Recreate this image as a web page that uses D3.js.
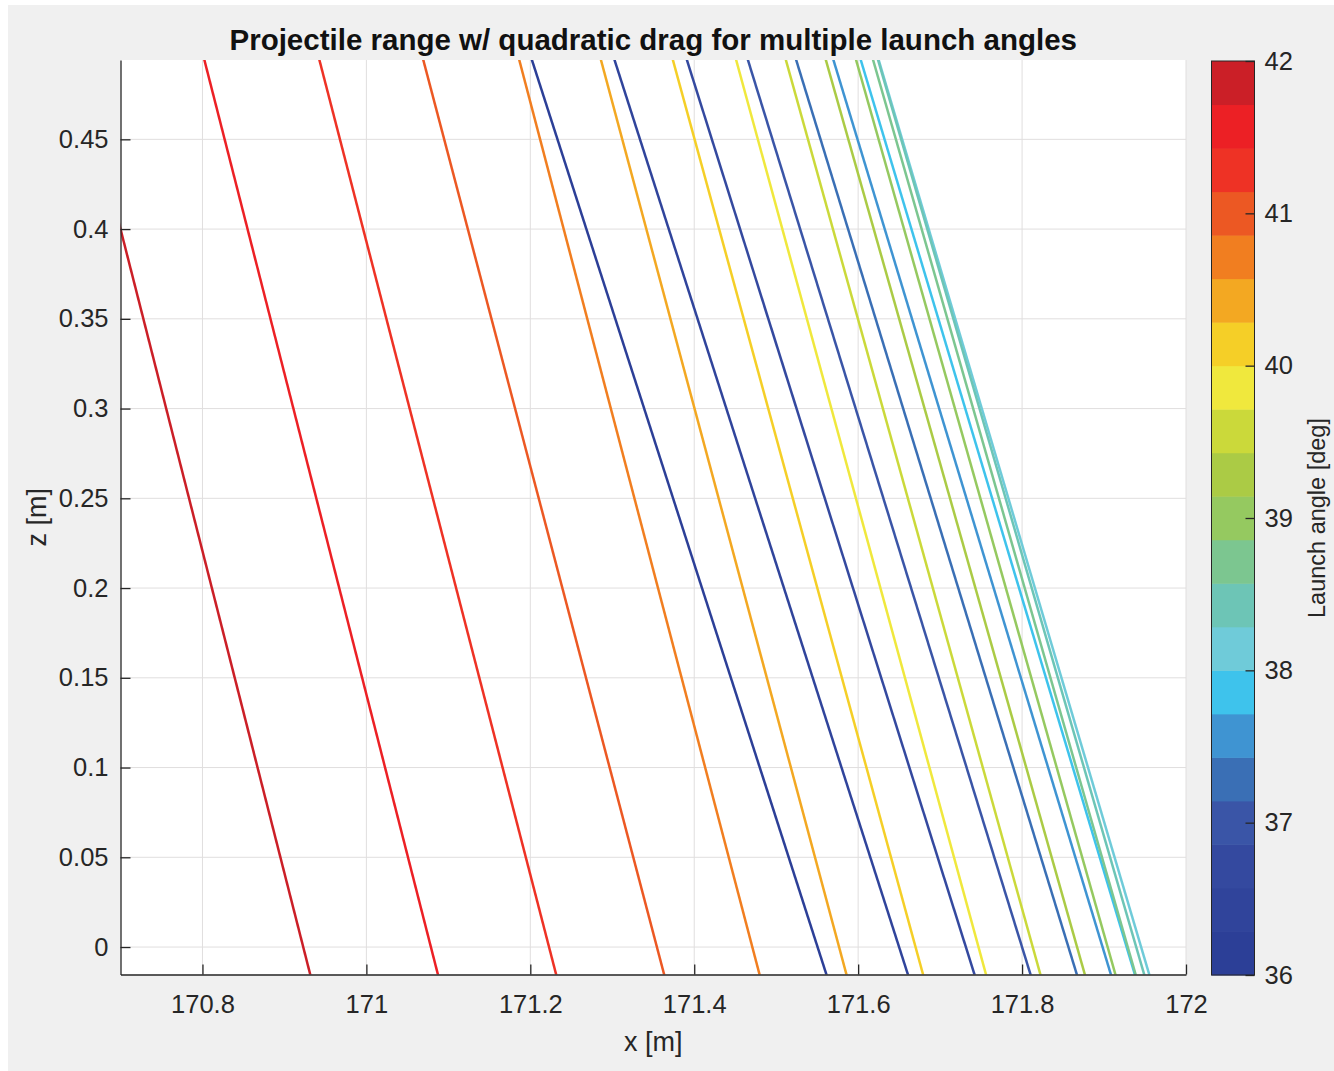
<!DOCTYPE html>
<html>
<head>
<meta charset="utf-8">
<script src="https://cdn.jsdelivr.net/npm/d3@7.9.0/dist/d3.min.js"></script>
<style>
  html, body { margin: 0; padding: 0; background: #fff; }
  svg { display: block; font-family: "Liberation Sans", Arial, sans-serif; }
</style>
</head>
<body>
<svg id="chart" width="1334" height="1071"></svg>
<script>
// launch angles [deg], one trajectory each
const angles = [36, 36.3, 36.6, 36.9, 37.2, 37.5, 37.8, 38.1, 38.4, 38.7, 39,
                39.3, 39.6, 39.9, 40.2, 40.5, 40.8, 41.1, 41.4, 41.7, 42];
// x [m] of each trajectory at z = 0.5 m and at z = -0.02 m
const zPts = [0.5, -0.02];
const xAtTop = [171.1979, 171.2987, 171.3871, 171.4616, 171.5205, 171.5660, 171.5994,
                171.6213, 171.6206, 171.6146, 171.5939, 171.5570, 171.5083, 171.4477,
                171.3705, 171.2828, 171.1832, 171.0661, 170.9394, 170.7991, 170.6443];
const xAtBottom = [171.5646, 171.6640, 171.7452, 171.8135, 171.8700, 171.9115, 171.9407,
                   171.9582, 171.9520, 171.9415, 171.9168, 171.8795, 171.8252, 171.7588,
                   171.6820, 171.5885, 171.4824, 171.3660, 171.2342, 171.0899, 170.9341];

// colormap, 21 levels from 36 to 42 deg
const cmap = ["#2c3f97", "#30449b", "#34499f", "#3a55a7", "#3a6fb5", "#3f94d2", "#3ec3ec",
              "#6fcbd9", "#6dc5b6", "#7cc690", "#95c960", "#abcb45", "#cbd93a", "#f0e83d",
              "#f5cf27", "#f3a822", "#f17e20", "#ec5823", "#ee3225", "#ec2025", "#cb1f27"];

const xTicks = [170.8, 171, 171.2, 171.4, 171.6, 171.8, 172];
const yTicks = [0, 0.05, 0.1, 0.15, 0.2, 0.25, 0.3, 0.35, 0.4, 0.45];
const cTicks = [36, 37, 38, 39, 40, 41, 42];

const svg = d3.select("#chart");
const axisColor = "#262626";
const tickFont = "25.5px";

// figure background
svg.append("rect").attr("x", 8).attr("y", 5).attr("width", 1326).attr("height", 1066)
  .attr("fill", "#f0f0f0");

const x = d3.scaleLinear().domain([170.7, 172]).range([120.5, 1186]);
const y = d3.scaleLinear().domain([-0.0153, 0.4942]).range([974.5, 60]);
const color = d3.scaleQuantize().domain([36, 42]).range(cmap);

// plot area
svg.append("rect")
  .attr("x", x.range()[0]).attr("y", y.range()[1])
  .attr("width", x.range()[1] - x.range()[0])
  .attr("height", y.range()[0] - y.range()[1])
  .attr("fill", "#fff");

svg.append("clipPath").attr("id", "plotclip")
  .append("rect")
  .attr("x", x.range()[0]).attr("y", y.range()[1])
  .attr("width", x.range()[1] - x.range()[0])
  .attr("height", y.range()[0] - y.range()[1]);

// grid
const grid = svg.append("g").attr("stroke", "#e0dede").attr("stroke-width", 1);
grid.selectAll(".gx").data(xTicks).enter().append("line")
  .attr("x1", d => x(d)).attr("x2", d => x(d))
  .attr("y1", y.range()[1]).attr("y2", y.range()[0]);
grid.selectAll(".gy").data(yTicks).enter().append("line")
  .attr("x1", x.range()[0]).attr("x2", x.range()[1])
  .attr("y1", d => y(d)).attr("y2", d => y(d));

// trajectories
const traj = angles.map((a, i) => ({
  angle: a,
  pts: [[xAtTop[i], zPts[0]], [xAtBottom[i], zPts[1]]]
}));
const line = d3.line().x(d => x(d[0])).y(d => y(d[1]));

svg.append("g").attr("clip-path", "url(#plotclip)")
  .selectAll("path").data(traj).enter().append("path")
  .attr("d", d => line(d.pts))
  .attr("fill", "none")
  .attr("stroke", d => color(d.angle))
  .attr("stroke-width", 2.5);

// axes
const fmt = d3.format("~g");
const xAxis = svg.append("g")
  .attr("transform", `translate(0,${y.range()[0]})`)
  .call(d3.axisBottom(x).tickValues(xTicks).tickFormat(fmt)
    .tickSizeInner(-10).tickSizeOuter(0).tickPadding(20));
const yAxis = svg.append("g")
  .attr("transform", `translate(${x.range()[0]},0)`)
  .call(d3.axisLeft(y).tickValues(yTicks).tickFormat(fmt)
    .tickSizeInner(-10).tickSizeOuter(0).tickPadding(12));

[xAxis, yAxis].forEach(ax => {
  ax.select(".domain").attr("stroke", axisColor).attr("stroke-width", 1.3);
  ax.selectAll(".tick line").attr("stroke", axisColor).attr("stroke-width", 1.3);
  ax.selectAll(".tick text").attr("fill", axisColor)
    .style("font-size", tickFont).style("font-family", "Liberation Sans, Arial, sans-serif");
});

// title and labels
svg.append("text")
  .attr("x", (x.range()[0] + x.range()[1]) / 2).attr("y", 50)
  .attr("text-anchor", "middle")
  .style("font-size", "29.5px").style("font-weight", "bold")
  .attr("fill", "#111")
  .text("Projectile range w/ quadratic drag for multiple launch angles");

svg.append("text")
  .attr("x", (x.range()[0] + x.range()[1]) / 2).attr("y", 1051)
  .attr("text-anchor", "middle")
  .style("font-size", "27px").attr("fill", axisColor)
  .text("x [m]");

svg.append("text")
  .attr("transform", `translate(46,${(y.range()[0] + y.range()[1]) / 2}) rotate(-90)`)
  .attr("text-anchor", "middle")
  .style("font-size", "27px").attr("fill", axisColor)
  .text("z [m]");

// colorbar
const cbX = 1211.5, cbW = 43;
const cy = d3.scaleLinear().domain([36, 42]).range([975, 61]);
const step = 6 / cmap.length;
const cb = svg.append("g");
cb.selectAll("rect").data(cmap).enter().append("rect")
  .attr("x", cbX)
  .attr("y", (d, i) => cy(36 + (i + 1) * step))
  .attr("width", cbW)
  .attr("height", (d, i) => cy(36 + i * step) - cy(36 + (i + 1) * step) + 0.5)
  .attr("fill", d => d);
cb.append("rect")
  .attr("x", cbX).attr("y", cy(42))
  .attr("width", cbW).attr("height", cy(36) - cy(42))
  .attr("fill", "none").attr("stroke", axisColor).attr("stroke-width", 1);

const cAxis = svg.append("g")
  .attr("transform", `translate(${cbX + cbW},0)`)
  .call(d3.axisRight(cy).tickValues(cTicks).tickFormat(fmt)
    .tickSizeInner(-9).tickSizeOuter(0).tickPadding(10));
cAxis.select(".domain").remove();
cAxis.selectAll(".tick line").attr("stroke", axisColor).attr("stroke-width", 1.3);
cAxis.selectAll(".tick text").attr("fill", axisColor)
  .style("font-size", tickFont).style("font-family", "Liberation Sans, Arial, sans-serif");

svg.append("text")
  .attr("transform", `translate(1325,${(cy(36) + cy(42)) / 2}) rotate(-90)`)
  .attr("text-anchor", "middle")
  .style("font-size", "23.5px").attr("fill", axisColor)
  .text("Launch angle [deg]");
</script>
</body>
</html>
